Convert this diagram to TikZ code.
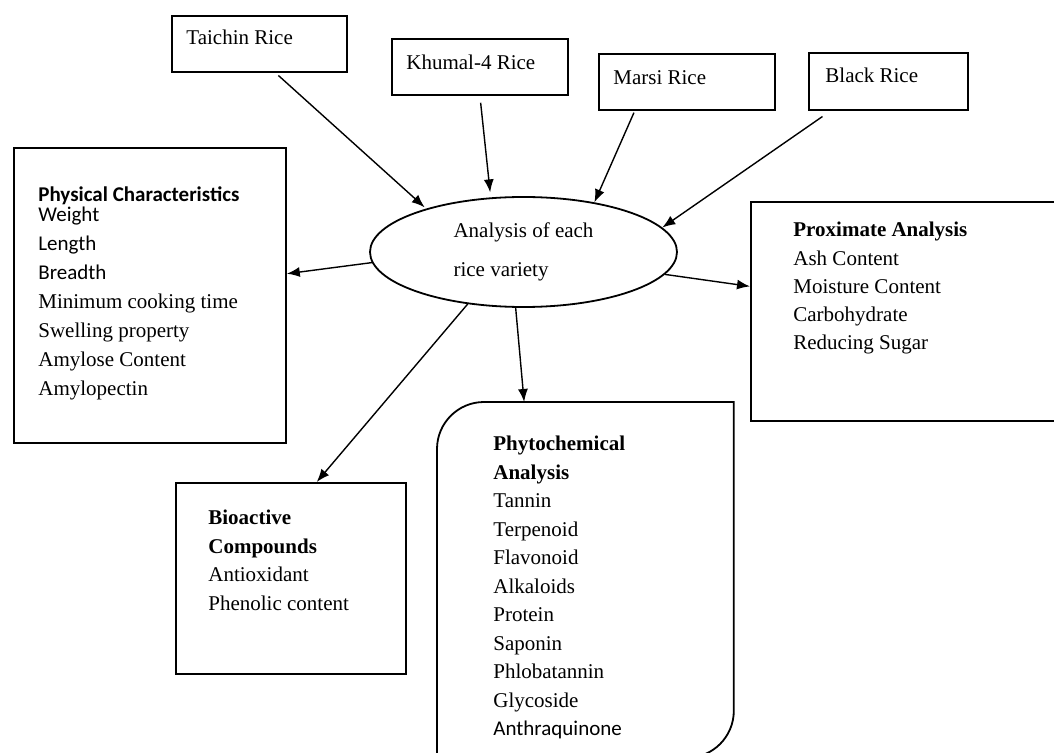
\documentclass[tikz,border=0pt]{standalone}
\usepackage{fontspec}
\setmainfont{Liberation Serif}
\newfontfamily\calibri{Carlito}
\usetikzlibrary{arrows.meta,shapes.geometric}

\begin{document}
\begin{tikzpicture}[x=0.5pt,y=-0.5pt,
    box/.style={draw, line width=0.9pt, inner sep=0pt, anchor=north west},
    txt/.style={inner sep=0pt, anchor=north west, align=left, font=\fontsize{10.5}{14.25}\selectfont},
    arr/.style={-{Latex[length=6.5pt,width=5pt]}, line width=0.7pt}]
    \useasboundingbox (0,0) rectangle (1054,753);
    % rice varieties
    \node [box, minimum width=87.5pt, minimum height=28pt] (taichin) at (171,15) {};
    \node [box, minimum width=88pt, minimum height=28pt] (khumal) at (391,38) {};
    \node [box, minimum width=88pt, minimum height=28pt] (marsi) at (598,53) {};
    \node [box, minimum width=79.5pt, minimum height=28.5pt] (black) at (808,52) {};
    \node [txt] (taichintxt) at (186,30) {Taichin Rice};
    \node [txt] (khumaltxt) at (406,55) {Khumal-4 Rice};
    \node [txt] (marsitxt) at (613,70) {Marsi Rice};
    \node [txt] (blacktxt) at (825,68) {Black Rice};
    % centre
    \node [draw, ellipse, line width=0.9pt, minimum width=153.5pt, minimum height=55pt, inner sep=0pt,
        align=left, font=\fontsize{10.5}{19.5}\selectfont] (analysis) at (523.5,252) {Analysis of each\\ rice variety};
    % analyses
    \node [box, minimum width=136pt, minimum height=147.5pt] (physical) at (13,147) {};
    \node [box, minimum width=157pt, minimum height=109.5pt] (proximate) at (750,201) {};
    \node [box, minimum width=115pt, minimum height=95.5pt] (bioactive) at (175,482) {};
    \node [inner sep=0pt, anchor=north west, minimum width=148pt, minimum height=177.5pt] (phyto) at (437,402) {};
    \draw [line width=0.9pt] (phyto.north east) -- ([xshift=23.5pt]phyto.north west)
        arc [start angle=90, end angle=180, radius=23.5pt] -- (phyto.south west)
        -- ([xshift=-23.5pt]phyto.south east) arc [start angle=270, end angle=360, radius=23.5pt] -- cycle;

    \node [txt, font=\fontsize{10.5}{14.5}\selectfont] (physicaltxt) at (38,186)
        {{\calibri\bfseries Physical Characteristics}\\[-4.5pt] {\calibri Weight}\\ {\calibri Length}\\
         {\calibri Breadth}\\ Minimum cooking time\\ Swelling property\\ Amylose Content\\ Amylopectin};
    \node [txt, font=\fontsize{10.5}{14.1}\selectfont] (proximatetxt) at (793,222)
        {\textbf{Proximate Analysis}\\ Ash Content\\ Moisture Content\\ Carbohydrate\\ Reducing Sugar};
    \node [txt, font=\fontsize{10.5}{14.2}\selectfont] (bioactivetxt) at (208,510)
        {\textbf{Bioactive}\\ \textbf{Compounds}\\ Antioxidant\\ Phenolic content};
    \node [txt] (phytotxt) at (493,436)
        {\textbf{Phytochemical}\\ \textbf{Analysis}\\ Tannin\\ Terpenoid\\ Flavonoid\\ Alkaloids\\
         Protein\\ Saponin\\ Phlobatannin\\ Glycoside\\ {\calibri Anthraquinone}};

    \draw [arr, shorten <=2pt, shorten >=1pt] (taichin.-61) -- (analysis.156);
    \draw [arr, shorten <=3.5pt, shorten >=2.5pt] (khumal.south) -- (analysis.121.3);
    \draw [arr, shorten <=1pt] (marsi.-151.7) -- (analysis.35.2);
    \draw [arr, shorten <=5pt] (black.-153.2) -- (analysis.10.2);
    \draw [arr] (analysis.184) -- (physical.9.3);
    \draw [arr] (analysis.-9) -- (proximate.171.1);
    \draw [arr] (analysis.-137.8) -- (bioactive.75.3);
    \draw [arr] (analysis.-98.6) -- (phyto.109.5);
\end{tikzpicture}
\end{document}
